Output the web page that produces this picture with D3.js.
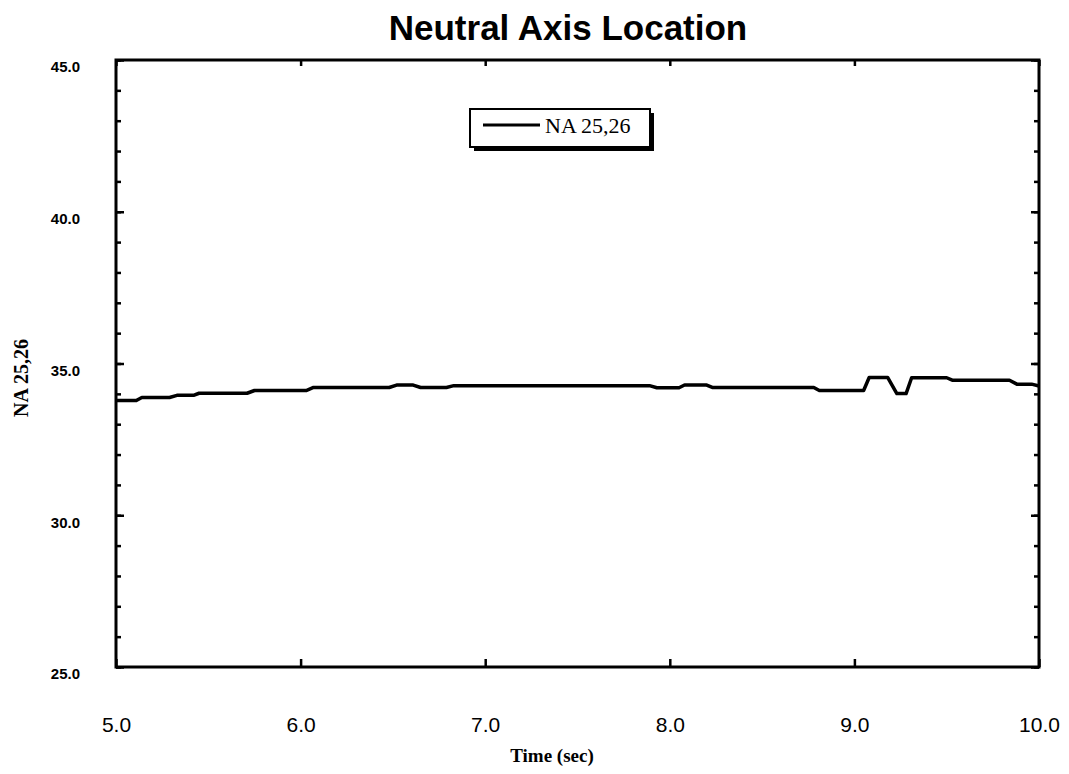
<!DOCTYPE html>
<html lang="en">
<head>
  <meta charset="utf-8">
  <title>Neutral Axis Location</title>
  <script src="https://d3js.org/d3.v7.min.js"></script>
  <style>
    body { margin: 0; background: #fff; }
  </style>
</head>
<body>
  <div id="chart"></div>

  <script type="text/javascript">
    "use strict"

    // data (time in s, neutral axis position)
    var tempo = [5.00, 5.11, 5.14, 5.29, 5.33, 5.42, 5.45, 5.71, 5.75, 6.03,
                 6.07, 6.48, 6.52, 6.61, 6.65, 6.79, 6.83, 7.89, 7.93, 8.05,
                 8.08, 8.20, 8.23, 8.78, 8.81, 9.05, 9.08, 9.18, 9.23, 9.28,
                 9.31, 9.50, 9.53, 9.84, 9.88, 9.96, 10.00];
    var na2526 = [33.78, 33.78, 33.88, 33.88, 33.95, 33.95, 34.02, 34.02, 34.11, 34.11,
                  34.21, 34.21, 34.29, 34.29, 34.21, 34.21, 34.27, 34.27, 34.20, 34.20,
                  34.29, 34.29, 34.21, 34.21, 34.11, 34.11, 34.54, 34.54, 34.01, 34.01,
                  34.53, 34.53, 34.45, 34.45, 34.32, 34.32, 34.26];

    var xTicks = [5, 6, 7, 8, 9, 10];
    var yTicks = [25, 30, 35, 40, 45];
    var yMinor = d3.range(25, 46, 1);

    var larguraSVG = 1069, alturaSVG = 774;
    var margin = {top: 60, right: 30, bottom: 107, left: 116},
        larguraVis = larguraSVG - margin.left - margin.right,
        alturaVis = alturaSVG - margin.top - margin.bottom;

    var svg = d3.select('#chart')
      .append('svg')
        .attr('width', larguraSVG)
        .attr('height', alturaSVG);

    var grafico = svg.append('g')
        .attr('transform', 'translate(' + margin.left + ',' + margin.top + ')');

    /*
     * scales
     */
    var x = d3.scaleLinear().domain([5, 10]).range([0, larguraVis]);
    var y = d3.scaleLinear().domain([25, 45]).range([alturaVis, 0]);

    /*
     * axes (ticks point inwards, like the old Mac plot)
     */
    var fmt = d3.format('.1f');

    var eixoY = grafico.append('g')
      .call(d3.axisLeft(y).tickValues(yTicks).tickSize(-8).tickPadding(36).tickFormat(fmt));
    eixoY.selectAll('text')
      .attr('y', 7)
      .style('font-family', 'Arial, "Liberation Sans", sans-serif')
      .style('font-weight', 'bold')
      .style('font-size', '15px')
      .attr('fill', '#000');

    grafico.append('g')
      .call(d3.axisLeft(y).tickValues(yMinor).tickSize(-5).tickFormat(''));

    grafico.append('g')
      .attr('transform', 'translate(' + larguraVis + ',0)')
      .call(d3.axisRight(y).tickValues(yTicks).tickSize(-8).tickFormat(''));
    grafico.append('g')
      .attr('transform', 'translate(' + larguraVis + ',0)')
      .call(d3.axisRight(y).tickValues(yMinor).tickSize(-5).tickFormat(''));

    var eixoX = grafico.append('g')
      .attr('transform', 'translate(0,' + alturaVis + ')')
      .call(d3.axisBottom(x).tickValues(xTicks).tickSize(-8).tickPadding(50).tickFormat(fmt));
    eixoX.selectAll('text')
      .style('font-family', 'Arial, "Liberation Sans", sans-serif')
      .style('font-size', '21px')
      .attr('fill', '#000');

    grafico.append('g')
      .call(d3.axisTop(x).tickValues(xTicks).tickSize(-6).tickFormat(''));

    grafico.selectAll('.domain').remove();
    grafico.selectAll('.tick line').attr('stroke', '#000').attr('stroke-width', 2.5);

    // frame (top edge a bit thinner in the scan)
    grafico.append('rect')
      .attr('x', 0).attr('y', 0)
      .attr('width', larguraVis).attr('height', alturaVis)
      .attr('fill', 'none')
      .attr('stroke', '#000')
      .attr('stroke-width', 3);

    /*
     * the line
     */
    var pontos = tempo.map((t, i) => [t, na2526[i]]);
    var linha = d3.line()
      .x(d => x(d[0]))
      .y(d => y(d[1]));

    grafico.append('path')
      .datum(pontos)
      .attr('d', linha)
      .attr('fill', 'none')
      .attr('stroke', '#000')
      .attr('stroke-width', 3.5)
      .attr('stroke-linejoin', 'round');

    /*
     * legend
     */
    var leg = svg.append('g').attr('transform', 'translate(470,109)');
    leg.append('rect')
      .attr('x', 4).attr('y', 4).attr('width', 180).attr('height', 38)
      .attr('fill', '#000');
    leg.append('rect')
      .attr('x', 0).attr('y', 0).attr('width', 180).attr('height', 38)
      .attr('fill', '#fff').attr('stroke', '#000').attr('stroke-width', 2);
    leg.append('line')
      .attr('x1', 13).attr('x2', 70).attr('y1', 16).attr('y2', 16)
      .attr('stroke', '#000').attr('stroke-width', 3);
    leg.append('text')
      .attr('x', 75).attr('y', 24)
      .style('font-family', '"Liberation Serif", "Times New Roman", serif')
      .style('font-size', '22px')
      .text('NA 25,26');

    /*
     * titles
     */
    svg.append('text')
      .attr('x', 568).attr('y', 40)
      .attr('text-anchor', 'middle')
      .style('font-family', 'Arial, "Liberation Sans", sans-serif')
      .style('font-weight', 'bold')
      .style('font-size', '35px')
      .text('Neutral Axis Location');

    svg.append('text')
      .attr('x', 552).attr('y', 762)
      .attr('text-anchor', 'middle')
      .style('font-family', '"Liberation Serif", "Times New Roman", serif')
      .style('font-weight', 'bold')
      .style('font-size', '19px')
      .text('Time (sec)');

    svg.append('text')
      .attr('transform', 'translate(28,378) rotate(-90)')
      .attr('text-anchor', 'middle')
      .style('font-family', '"Liberation Serif", "Times New Roman", serif')
      .style('font-weight', 'bold')
      .style('font-size', '20px')
      .text('NA 25,26');
  </script>
</body>
</html>
